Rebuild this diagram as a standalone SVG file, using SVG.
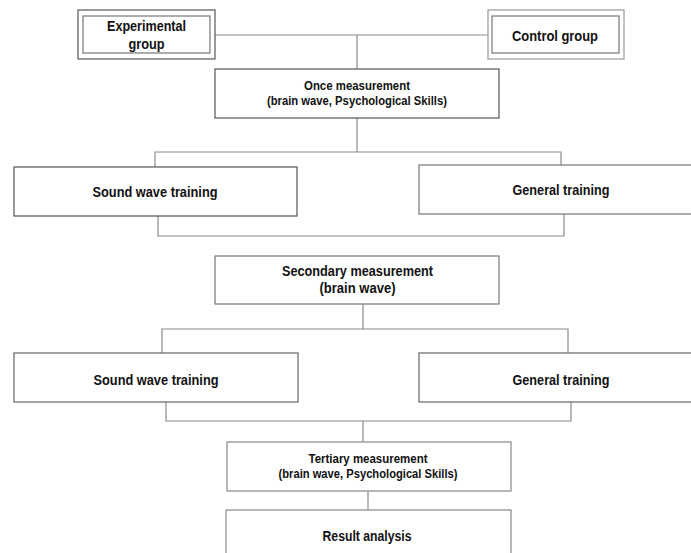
<svg xmlns="http://www.w3.org/2000/svg" width="691" height="553" viewBox="0 0 691 553">
<style>
.box{fill:#fff;stroke:#555;stroke-width:1.2}
.inner{fill:#fff;stroke:#777;stroke-width:1.2}
.con{fill:none;stroke:#8a8a8a;stroke-width:1.2}
text{font-family:"Liberation Sans",Arial,sans-serif;font-weight:bold;fill:#111;text-anchor:middle}
.l{font-size:14px}
.s{font-size:12px}
</style>
<rect width="691" height="553" fill="#fff"/>
<g id="connectors">
<polyline class="con" points="215,35 488,35"/>
<line class="con" x1="357" y1="35" x2="357" y2="69"/>
<line class="con" x1="357" y1="118" x2="357" y2="152"/>
<polyline class="con" points="155,167 155,152 561,152 561,165"/>
<polyline class="con" points="158,216 158,236 564,236 564,214"/>
<line class="con" x1="363" y1="304" x2="363" y2="329"/>
<polyline class="con" points="162,353 162,329 568,329 568,353"/>
<polyline class="con" points="166,402 166,421 571,421 571,402"/>
<line class="con" x1="363" y1="421" x2="363" y2="442"/>
<line class="con" x1="368" y1="491" x2="368" y2="510"/>
</g>
<g id="experimental">
<rect class="box" x="78" y="10" width="137" height="49"/>
<rect class="inner" x="83" y="16" width="127" height="37"/>
<text class="l" x="146.5" y="31" textLength="79" lengthAdjust="spacingAndGlyphs">Experimental</text>
<text class="l" x="146.5" y="49" textLength="36" lengthAdjust="spacingAndGlyphs">group</text>
</g>
<g id="control">
<rect class="box" x="488" y="10" width="136" height="49" style="stroke:#999"/>
<rect class="inner" x="492" y="16" width="127" height="37"/>
<text class="l" x="555" y="41" textLength="86" lengthAdjust="spacingAndGlyphs">Control group</text>
</g>
<g id="once">
<rect class="box" x="215" y="69" width="284" height="49"/>
<text class="s" x="357" y="90" textLength="106" lengthAdjust="spacingAndGlyphs">Once measurement</text>
<text class="s" x="357" y="105" textLength="180" lengthAdjust="spacingAndGlyphs">(brain wave, Psychological Skills)</text>
</g>
<g id="sound1">
<rect class="box" x="14" y="167" width="283" height="49"/>
<text class="l" x="155" y="197" textLength="125" lengthAdjust="spacingAndGlyphs">Sound wave training</text>
</g>
<g id="general1">
<rect class="box" x="419" y="165" width="280" height="49" style="stroke:#777"/>
<text class="l" x="561" y="195" textLength="97" lengthAdjust="spacingAndGlyphs">General training</text>
</g>
<g id="secondary">
<rect class="box" x="215" y="256" width="284" height="48" style="stroke:#777"/>
<text class="l" x="357.5" y="276" textLength="151" lengthAdjust="spacingAndGlyphs">Secondary measurement</text>
<text class="l" x="357.5" y="293" textLength="76" lengthAdjust="spacingAndGlyphs">(brain wave)</text>
</g>
<g id="sound2">
<rect class="box" x="14" y="353" width="284" height="49" style="stroke:#666"/>
<text class="l" x="156" y="385" textLength="125" lengthAdjust="spacingAndGlyphs">Sound wave training</text>
</g>
<g id="general2">
<rect class="box" x="419" y="353" width="280" height="49" style="stroke:#666"/>
<text class="l" x="561" y="385" textLength="97" lengthAdjust="spacingAndGlyphs">General training</text>
</g>
<g id="tertiary">
<rect class="box" x="227" y="442" width="284" height="49" style="stroke:#888"/>
<text class="s" x="368" y="463" textLength="119" lengthAdjust="spacingAndGlyphs">Tertiary measurement</text>
<text class="s" x="368" y="478" textLength="179" lengthAdjust="spacingAndGlyphs">(brain wave, Psychological Skills)</text>
</g>
<g id="result">
<rect class="box" x="226" y="510" width="285" height="60" style="stroke:#888"/>
<text class="l" x="367" y="541" textLength="89" lengthAdjust="spacingAndGlyphs">Result analysis</text>
</g>
</svg>
